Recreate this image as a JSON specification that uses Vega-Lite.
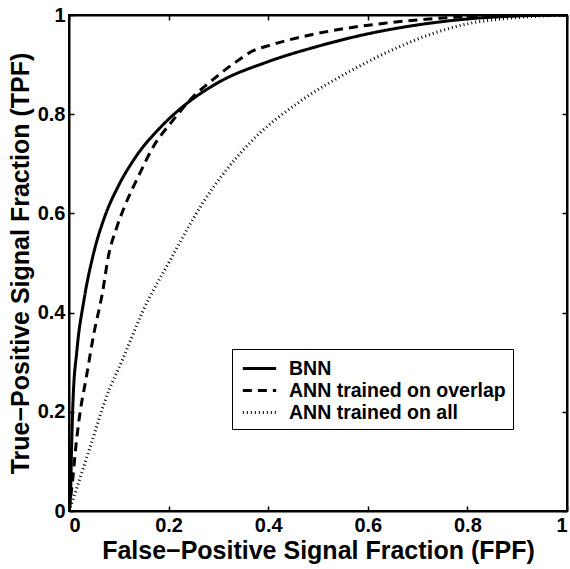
{
  "$schema": "https://vega.github.io/schema/vega-lite/v6.json",
  "autosize": "none",
  "width": 498,
  "height": 496,
  "padding": {"left": 69, "top": 15, "right": 3, "bottom": 58},
  "background": "white",
  "config": {
    "view": {"stroke": "black", "strokeWidth": 2},
    "axis": {
      "domainColor": "black", "domainWidth": 2,
      "tickColor": "black", "tickWidth": 1.5, "tickSize": -5,
      "labelFont": "Liberation Sans", "labelFontWeight": "bold", "labelFontSize": 20, "labelColor": "black",
      "titleFont": "Liberation Sans", "titleFontWeight": "bold", "titleFontSize": 25, "titleColor": "black",
      "grid": false
    },
    "legend": {"labelBaseline": "middle"}
  },
  "data": {"values": [
    {"model": "BNN", "fpf": 0, "tpf": 0},
    {"model": "BNN", "fpf": 0.003, "tpf": 0.03},
    {"model": "BNN", "fpf": 0.005, "tpf": 0.12},
    {"model": "BNN", "fpf": 0.008, "tpf": 0.22},
    {"model": "BNN", "fpf": 0.016, "tpf": 0.325},
    {"model": "BNN", "fpf": 0.03, "tpf": 0.425},
    {"model": "BNN", "fpf": 0.05, "tpf": 0.522},
    {"model": "BNN", "fpf": 0.072, "tpf": 0.594},
    {"model": "BNN", "fpf": 0.099, "tpf": 0.655},
    {"model": "BNN", "fpf": 0.132, "tpf": 0.711},
    {"model": "BNN", "fpf": 0.186, "tpf": 0.776},
    {"model": "BNN", "fpf": 0.232, "tpf": 0.818},
    {"model": "BNN", "fpf": 0.3, "tpf": 0.864},
    {"model": "BNN", "fpf": 0.4, "tpf": 0.906},
    {"model": "BNN", "fpf": 0.5, "tpf": 0.937},
    {"model": "BNN", "fpf": 0.6, "tpf": 0.962},
    {"model": "BNN", "fpf": 0.7, "tpf": 0.98},
    {"model": "BNN", "fpf": 0.8, "tpf": 0.992},
    {"model": "BNN", "fpf": 0.9, "tpf": 0.998},
    {"model": "BNN", "fpf": 1, "tpf": 1},
    {"model": "ANN trained on overlap", "fpf": 0, "tpf": 0},
    {"model": "ANN trained on overlap", "fpf": 0.008, "tpf": 0.069},
    {"model": "ANN trained on overlap", "fpf": 0.013, "tpf": 0.123},
    {"model": "ANN trained on overlap", "fpf": 0.021, "tpf": 0.19},
    {"model": "ANN trained on overlap", "fpf": 0.035, "tpf": 0.271},
    {"model": "ANN trained on overlap", "fpf": 0.05, "tpf": 0.358},
    {"model": "ANN trained on overlap", "fpf": 0.067, "tpf": 0.439},
    {"model": "ANN trained on overlap", "fpf": 0.079, "tpf": 0.513},
    {"model": "ANN trained on overlap", "fpf": 0.096, "tpf": 0.572},
    {"model": "ANN trained on overlap", "fpf": 0.112, "tpf": 0.615},
    {"model": "ANN trained on overlap", "fpf": 0.139, "tpf": 0.674},
    {"model": "ANN trained on overlap", "fpf": 0.169, "tpf": 0.734},
    {"model": "ANN trained on overlap", "fpf": 0.209, "tpf": 0.788},
    {"model": "ANN trained on overlap", "fpf": 0.25, "tpf": 0.836},
    {"model": "ANN trained on overlap", "fpf": 0.288, "tpf": 0.869},
    {"model": "ANN trained on overlap", "fpf": 0.336, "tpf": 0.906},
    {"model": "ANN trained on overlap", "fpf": 0.37, "tpf": 0.928},
    {"model": "ANN trained on overlap", "fpf": 0.4, "tpf": 0.938},
    {"model": "ANN trained on overlap", "fpf": 0.5, "tpf": 0.963},
    {"model": "ANN trained on overlap", "fpf": 0.63, "tpf": 0.983},
    {"model": "ANN trained on overlap", "fpf": 0.7, "tpf": 0.99},
    {"model": "ANN trained on overlap", "fpf": 0.8, "tpf": 0.997},
    {"model": "ANN trained on overlap", "fpf": 0.9, "tpf": 1},
    {"model": "ANN trained on overlap", "fpf": 1, "tpf": 1},
    {"model": "ANN trained on all", "fpf": 0, "tpf": 0},
    {"model": "ANN trained on all", "fpf": 0.01, "tpf": 0.029},
    {"model": "ANN trained on all", "fpf": 0.023, "tpf": 0.069},
    {"model": "ANN trained on all", "fpf": 0.047, "tpf": 0.143},
    {"model": "ANN trained on all", "fpf": 0.073, "tpf": 0.224},
    {"model": "ANN trained on all", "fpf": 0.11, "tpf": 0.311},
    {"model": "ANN trained on all", "fpf": 0.147, "tpf": 0.4},
    {"model": "ANN trained on all", "fpf": 0.205, "tpf": 0.509},
    {"model": "ANN trained on all", "fpf": 0.268, "tpf": 0.62},
    {"model": "ANN trained on all", "fpf": 0.363, "tpf": 0.742},
    {"model": "ANN trained on all", "fpf": 0.463, "tpf": 0.825},
    {"model": "ANN trained on all", "fpf": 0.563, "tpf": 0.886},
    {"model": "ANN trained on all", "fpf": 0.65, "tpf": 0.93},
    {"model": "ANN trained on all", "fpf": 0.723, "tpf": 0.96},
    {"model": "ANN trained on all", "fpf": 0.804, "tpf": 0.983},
    {"model": "ANN trained on all", "fpf": 0.89, "tpf": 0.994},
    {"model": "ANN trained on all", "fpf": 1, "tpf": 1}
  ]},
  "layer": [
    {
      "mark": {"type": "line", "color": "black", "strokeCap": "butt", "interpolate": "monotone", "clip": true},
      "encoding": {
        "x": {"field": "fpf", "type": "quantitative", "scale": {"domain": [0, 1], "nice": false},
              "axis": {"title": "False−Positive Signal Fraction (FPF)", "values": [0, 0.2, 0.4, 0.6, 0.8, 1], "format": "~g", "labelPadding": 9, "titlePadding": 3}},
        "y": {"field": "tpf", "type": "quantitative", "scale": {"domain": [0, 1], "nice": false},
              "axis": {"title": "True−Positive Signal Fraction (TPF)", "values": [0, 0.2, 0.4, 0.6, 0.8, 1], "format": "~g", "labelPadding": 9, "titlePadding": 4}},
        "strokeDash": {"field": "model", "type": "nominal",
          "scale": {"domain": ["BNN", "ANN trained on overlap", "ANN trained on all"], "range": [[1, 0], [9, 6], [1, 3]]},
          "legend": {"title": null, "orient": "none", "legendX": 163, "legendY": 334,
            "strokeColor": "black", "fillColor": "white", "padding": 7,
            "symbolType": "M-1.55,0H1.55", "symbolSize": 462, "symbolStrokeColor": "black", "symbolOffset": 8,
            "labelFont": "Liberation Sans", "labelFontWeight": "bold", "labelFontSize": 19.5, "labelColor": "black",
            "labelOffset": 17, "rowPadding": 0, "labelLimit": 400}},
        "strokeWidth": {"field": "model", "type": "nominal",
          "scale": {"domain": ["BNN", "ANN trained on overlap", "ANN trained on all"], "range": [3, 3, 1]},
          "legend": {"title": null, "orient": "none", "legendX": 163, "legendY": 334,
            "strokeColor": "black", "fillColor": "white", "padding": 7,
            "symbolType": "M-1.55,0H1.55", "symbolSize": 462, "symbolStrokeColor": "black", "symbolOffset": 8,
            "labelFont": "Liberation Sans", "labelFontWeight": "bold", "labelFontSize": 19.5, "labelColor": "black",
            "labelOffset": 17, "rowPadding": 0, "labelLimit": 400}}
      }
    },
    {
      "mark": {"type": "point", "opacity": 0},
      "encoding": {
        "x": {"field": "fpf", "type": "quantitative",
              "axis": {"orient": "top", "title": null, "labels": false, "values": [0, 0.2, 0.4, 0.6, 0.8, 1]}},
        "y": {"field": "tpf", "type": "quantitative",
              "axis": {"orient": "right", "title": null, "labels": false, "values": [0, 0.2, 0.4, 0.6, 0.8, 1]}}
      }
    }
  ],
  "resolve": {"axis": {"x": "independent", "y": "independent"}}
}
